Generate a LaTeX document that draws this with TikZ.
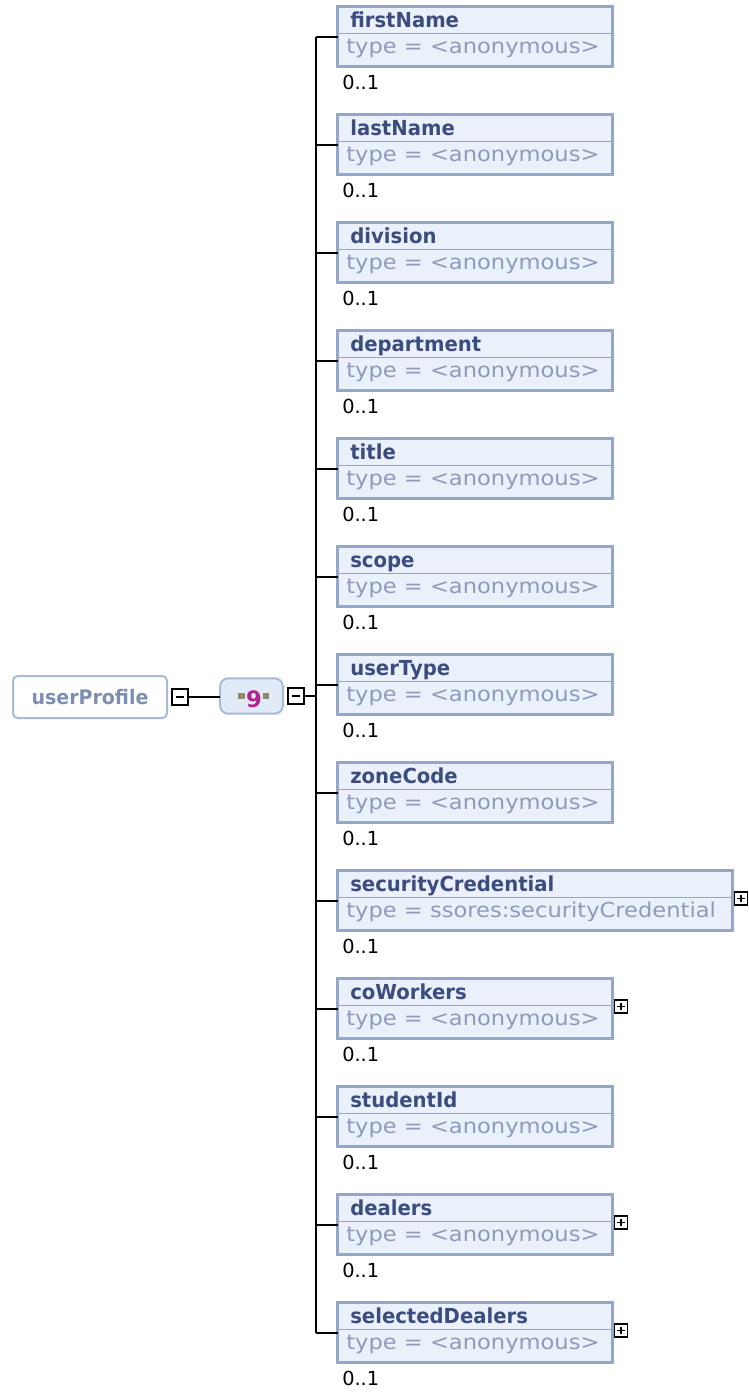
\documentclass[tikz,border=0pt]{standalone}
\usepackage{fontspec}
\setmainfont{DejaVu Sans}
\newfontfamily\typefont[FakeStretch=1.1]{DejaVu Sans}
\newfontfamily\namefont[FakeStretch=0.95]{DejaVu Sans}
\usetikzlibrary{positioning}

\definecolor{boxline}{HTML}{94A6CA}
\definecolor{boxfill}{HTML}{EBF1FB}
\definecolor{nametext}{HTML}{3D4C7E}
\definecolor{typetext}{HTML}{8D9BBA}
\definecolor{rootline}{HTML}{A9B9D6}
\definecolor{roottext}{HTML}{7E8EB2}
\definecolor{seqfill}{HTML}{E1EBF7}
\definecolor{iconolive}{HTML}{8E8B68}
\definecolor{iconmag}{HTML}{B0248E}

\tikzset{
  tie/.style={line width=1.5pt, black},
  elbox/.style={draw=boxline, line width=2.2pt, fill=boxfill, minimum height=45pt,
    inner sep=0pt, outer sep=0pt, anchor=north west},
  divider/.style={draw=boxline, line width=0.8pt},
  nametxt/.style={text=nametext, inner sep=0pt, font=\fontsize{15.5}{16}\namefont\bfseries},
  typetxt/.style={text=typetext, inner sep=0pt, font=\fontsize{15.4}{16}\typefont},
  occtxt/.style={text=black, inner sep=0pt, font=\fontsize{14.5}{16}\selectfont},
  rootbox/.style={draw=rootline, line width=1.5pt, fill=white, rounded corners=3.5pt,
    minimum width=115.5pt, minimum height=31.5pt, inner sep=0pt, outer sep=0pt,
    text=roottext, font=\fontsize{15}{16}\namefont\bfseries},
  seqbox/.style={draw=rootline, line width=1.5pt, fill=seqfill, rounded corners=6pt,
    minimum width=47pt, minimum height=26.5pt, inner sep=0pt, outer sep=0pt},
  seqdot/.style={fill=iconolive, minimum width=4.8pt, minimum height=4.4pt, inner sep=0pt},
  seqmark/.style={text=iconmag, inner sep=0pt, font=\fontsize{17}{18}\selectfont\bfseries},
  minusbox/.style={draw=black, line width=1.5pt, fill=white, minimum size=11.6pt,
    inner sep=0pt, outer sep=0pt, path picture={
      \draw[line width=1.5pt] ([xshift=2.8pt]path picture bounding box.west)
        -- ([xshift=-2.8pt]path picture bounding box.east);}},
  plusbox/.style={draw=black, line width=1.4pt, fill=white, minimum size=9.8pt,
    inner sep=0pt, outer sep=0pt, path picture={
      \draw[line width=1.4pt] ([xshift=2pt]path picture bounding box.west)
        -- ([xshift=-2pt]path picture bounding box.east)
        ([yshift=2pt]path picture bounding box.south)
        -- ([yshift=-2pt]path picture bounding box.north);}}
}

\begin{document}
\begin{tikzpicture}[x=0.75pt,y=-0.75pt]
  \useasboundingbox (0,0) rectangle (749,1393);
  \node[rootbox] (userProfile) at (90,697) {userProfile};
  \node[minusbox] (rootMinus) at (180,697) {};
  \node[seqbox] (seq) at (251.5,696) {};
  \node[seqdot] (seqL) at (241.5,696) {};
  \node[seqdot] (seqR) at (266,696) {};
  \node[seqmark] (seqM) at (254,699.5) {9};
  \node[minusbox] (seqMinus) at (296,696) {};
  \draw[tie] (rootMinus.east) -- (rootMinus.east -| seq.west);
  \coordinate (spine) at (315.5,0);
  \foreach \nm/\ty/\bw/\pl [count=\i] in {
      firstName/{<anonymous>}/206.3/0, lastName/{<anonymous>}/206.3/0,
      division/{<anonymous>}/206.3/0, department/{<anonymous>}/206.3/0,
      title/{<anonymous>}/206.3/0, scope/{<anonymous>}/206.3/0,
      userType/{<anonymous>}/206.3/0, zoneCode/{<anonymous>}/206.3/0,
      securityCredential/{ssores:securityCredential}/296.3/1,
      coWorkers/{<anonymous>}/206.3/1, studentId/{<anonymous>}/206.3/0,
      dealers/{<anonymous>}/206.3/1, selectedDealers/{<anonymous>}/206.3/1}{
    \node[elbox, minimum width=\bw pt] (el\i) at (337.5,{6.5+108*(\i-1)}) {};
    \draw[divider] ([yshift=-19.9pt]el\i.north west) -- ([yshift=-19.9pt]el\i.north east);
    \node[nametxt, anchor=base west] (nm\i) at ([xshift=9.4pt,yshift=-16.1pt]el\i.north west) {\nm};
    \node[typetxt, anchor=base west] (ty\i) at ([xshift=6.4pt,yshift=-35.3pt]el\i.north west) {type = \ty};
    \node[occtxt, anchor=base west] (oc\i) at ([xshift=3.4pt,yshift=-62.6pt]el\i.north west) {0..1};
    \ifnum\pl=1
      \node[plusbox, anchor=west] (pl\i) at ([xshift=1.4pt,yshift=1.5pt]el\i.east) {};
    \fi
    \draw[tie] (spine |- el\i.west) -- (el\i.west);
  }
  \draw[tie] (spine |- el1.west) -- (spine |- el13.west);
  \draw[tie] (seqMinus) -- (spine |- seqMinus);
\end{tikzpicture}
\end{document}
